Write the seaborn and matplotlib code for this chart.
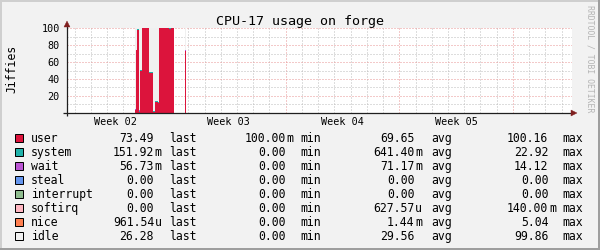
import numpy as np
import pandas as pd
import matplotlib
matplotlib.use("Agg")
import matplotlib.pyplot as plt
from matplotlib.patches import Rectangle
from matplotlib.transforms import blended_transform_factory
import seaborn as sns

# ---------------- data ----------------
title = "CPU-17 usage on forge"
unit_label = "Jiffies"
watermark = "RRDTOOL / TOBI OETIKER"

series = ["user", "system", "wait", "steal", "interrupt", "softirq", "nice", "idle"]
colors = ["#dc143c", "#20b2aa", "#ba55d3", "#6495ed", "#8fbc8f", "#ffb6c1", "#ff7f50", "#f0f0f0"]

# sample boundaries, in days since the left edge of the view
edges = [4.18, 4.24, 4.31, 4.43, 4.49, 4.61, 5.10, 5.29, 5.47, 5.60, 5.66,
         6.33, 6.40, 6.58, 7.28, 7.35]
nan = np.nan
# one value per sample (NaN = unknown)
user      = [3.0, 74.0, 98.0, 1.0, 49.5, 100.0, 46.5, 0.5, 12.5, 11.5, 100.0, 98.8, 100.0, nan, 73.5]
system    = [0.5, 0.5, 1.5, 1.0, 1.2, 0.0, 1.5, 1.0, 1.2, 0.8, 0.0, 1.2, 0.0, nan, 0.15]
wait      = [0.5, 0.0, 0.0, 1.5, 0.0, 0.0, 0.0, 0.0, 0.0, 0.0, 0.0, 0.0, 0.0, nan, 0.06]
steal     = [0.0, 0.0, 0.0, 0.0, 0.0, 0.0, 0.0, 0.0, 0.0, 0.0, 0.0, 0.0, 0.0, nan, 0.0]
interrupt = [0.0, 0.0, 0.0, 0.0, 0.0, 0.0, 0.0, 0.0, 0.0, 0.0, 0.0, 0.0, 0.0, nan, 0.0]
softirq   = [0.0, 0.0, 0.0, 0.0, 0.0, 0.0, 0.0, 0.0, 0.0, 0.0, 0.0, 0.0, 0.0, nan, 0.0]
nice      = [0.0, 0.0, 0.0, 0.0, 0.0, 0.0, 0.0, 0.0, 0.0, 0.0, 0.0, 0.0, 0.0, nan, 0.0]
idle      = [96.0, 25.5, 0.5, 96.5, 49.3, 0.0, 52.0, 98.5, 86.3, 87.7, 0.0, 0.0, 0.0, nan, 26.3]

x_span_days = 31.1
first_week_line = 6.49
week_labels = ["Week 02", "Week 03", "Week 04", "Week 05"]
y_major = [0, 20, 40, 60, 80, 100]
y_major_labels = ["", "20", "40", "60", "80", "100"]
y_minor = [10, 30, 50, 70, 90]

# legend statistics
stat_last = [73.49, 0.15192, 0.05673, 0.0, 0.0, 0.0, 0.00096154, 26.28]
stat_min  = [0.1, 0.0, 0.0, 0.0, 0.0, 0.0, 0.0, 0.0]
stat_avg  = [69.65, 0.6414, 0.07117, 0.0, 0.0, 0.00062757, 0.00144, 29.56]
stat_max  = [100.16, 22.92, 14.12, 0.0, 0.0, 0.14, 5.04, 99.86]
stat_names = ["last", "min", "avg", "max"]

# ---------------- style ----------------
BACK = "#f2f2f2"
SHADEA = "#cfcfcf"
SHADEB = "#9e9e9e"
GRID = "#bdbdbd"
MGRID = "#e99494"
ARROW = "#801f1f"
AXIS = "#1f1f1f"
MONO = ["DejaVu Sans Mono"]

sns.set_theme(style="white")
plt.rcParams["font.family"] = MONO

W, H = 600, 250
fig = plt.figure(figsize=(W / 100, H / 100), dpi=100, facecolor=BACK)

def fx(px):
    return px / W

def fy(py):
    return 1 - py / H

ax_l, ax_r, ax_t, ax_b = 66.7, 571.5, 28.3, 112.7
ax = fig.add_axes([fx(ax_l), fy(ax_b), (ax_r - ax_l) / W, (ax_b - ax_t) / H])
ax.set_facecolor("white")

# long-format table for seaborn
mids = [(a + b) / 2 for a, b in zip(edges[:-1], edges[1:])]
values = dict(user=user, system=system, wait=wait, steal=steal,
              interrupt=interrupt, softirq=softirq, nice=nice, idle=idle)
rows = []
for name in series:
    for m, v in zip(mids, values[name]):
        rows.append((m, name, v))
df = pd.DataFrame(rows, columns=["day", "metric", "value"]).dropna()

sns.histplot(data=df, x="day", weights="value", hue="metric",
             hue_order=series[::-1], bins=edges, multiple="stack",
             element="step", fill=True, palette=dict(zip(series, colors)),
             alpha=1, linewidth=0, legend=False, ax=ax)

ax.set_xlim(0, x_span_days)
ax.set_ylim(0, 100)
ax.set_xlabel("")
ax.set_ylabel("")

week_lines = [first_week_line + 7 * k for k in range(len(week_labels))]
day_lines = list(np.arange(first_week_line % 1, x_span_days, 1.0))
ax.set_xticks(week_lines, labels=[""] * len(week_lines))
ax.set_xticks(day_lines, minor=True)
ax.set_yticks(y_major, labels=y_major_labels)
ax.set_yticks(y_minor, minor=True)

dots = (0, (1, 2))
ax.xaxis.grid(True, which="major", color=MGRID, linestyle=dots, linewidth=0.72)
ax.xaxis.grid(True, which="minor", color=GRID, linestyle=dots, linewidth=0.72)
ax.yaxis.grid(True, which="major", color=MGRID, linestyle=dots, linewidth=0.72)
ax.yaxis.grid(True, which="minor", color=GRID, linestyle=dots, linewidth=0.72)
ax.set_axisbelow(True)
for s in ax.spines.values():
    s.set_visible(False)

ax.tick_params(axis="x", which="major", length=1.5, width=0.72, color=MGRID, direction="out")
ax.tick_params(axis="x", which="minor", length=1.5, width=0.72, color=GRID, direction="out")
ax.tick_params(axis="y", which="major", length=1.5, width=0.72, color=AXIS,
               direction="out", pad=3.4, labelsize=7.3, labelcolor="black")
ax.tick_params(axis="y", which="minor", length=0)

# week labels centred within each week
bt = blended_transform_factory(ax.transData, ax.transAxes)
h_ax = ax_b - ax_t
for wl, lab in zip(week_lines, week_labels):
    ax.text(wl - 3.5, -(125.0 - ax_b) / h_ax, lab, transform=bt,
            ha="center", va="baseline", fontsize=7.3, color="black", family=MONO)

# axis lines with arrows
w_ax = ax_r - ax_l
ax.plot([(63.0 - ax_l) / w_ax, (573.0 - ax_l) / w_ax], [0, 0], transform=ax.transAxes,
        color=AXIS, lw=0.9, clip_on=False, zorder=5, solid_capstyle="butt")
ax.plot([(574.0 - ax_l) / w_ax], [0], transform=ax.transAxes, marker=">", ms=4.2,
        color=ARROW, mec=ARROW, mew=0.3, clip_on=False, zorder=6)
ax.plot([0, 0], [-(115.5 - ax_b) / h_ax, (ax_b - 25.0) / h_ax], transform=ax.transAxes,
        color=AXIS, lw=0.9, clip_on=False, zorder=5, solid_capstyle="butt")
ax.plot([0], [(ax_b - 24.0) / h_ax], transform=ax.transAxes, marker="^", ms=4.2,
        color=ARROW, mec=ARROW, mew=0.3, clip_on=False, zorder=6)

# title, unit, watermark
fig.text(0.5, fy(25.0), title, ha="center", va="baseline", fontsize=9.6,
         color="black", family=MONO)
fig.text(fx(15.0), fy(69.0), unit_label, rotation=90, rotation_mode="anchor",
         ha="center", va="baseline", fontsize=8.3, color="black", family=MONO)
fig.text(fx(587.5), fy(59.0), watermark, rotation=270, rotation_mode="anchor",
         ha="center", va="baseline", fontsize=5.9, color="#b4b4b4", family=MONO)

# legend
def si(v):
    if v == 0:
        return "0.00", ""
    if abs(v) >= 1:
        return "%.2f" % v, ""
    if abs(v) >= 1e-3:
        return "%.2f" % (v * 1e3), "m"
    return "%.2f" % (v * 1e6), "u"

num_right = [154.0, 285.5, 414.5, 548.3]
word_left = [169.3, 300.3, 431.7, 562.7]
row_step = 13.91
stats = [stat_last, stat_min, stat_avg, stat_max]
for i, name in enumerate(series):
    base = 142.3 + i * row_step
    fig.patches.append(Rectangle((fx(15.0), fy(base)), 8.0 / W, 8.0 / H,
                                 transform=fig.transFigure, facecolor=colors[i],
                                 edgecolor="black", linewidth=0.72))
    fig.text(fx(30.7), fy(base), name, ha="left", va="baseline", fontsize=8.3,
             color="black", family=MONO)
    for j in range(4):
        num, suf = si(stats[j][i])
        fig.text(fx(num_right[j]), fy(base), num, ha="right", va="baseline",
                 fontsize=8.3, color="black", family=MONO)
        if suf:
            fig.text(fx(num_right[j] + 0.8), fy(base), suf, ha="left", va="baseline",
                     fontsize=8.3, color="black", family=MONO)
        fig.text(fx(word_left[j]), fy(base), stat_names[j], ha="left", va="baseline",
                 fontsize=8.3, color="black", family=MONO)

# 3-D style frame
fig.patches.append(Rectangle((0, 1 - 2.0 / H), 1, 2.0 / H, transform=fig.transFigure,
                             facecolor=SHADEA, edgecolor="none"))
fig.patches.append(Rectangle((0, 0), 2.0 / W, 1, transform=fig.transFigure,
                             facecolor=SHADEA, edgecolor="none"))
fig.patches.append(Rectangle((0, 0), 1, 2.0 / H, transform=fig.transFigure,
                             facecolor=SHADEB, edgecolor="none"))
fig.patches.append(Rectangle((1 - 2.0 / W, 0), 2.0 / W, 1, transform=fig.transFigure,
                             facecolor=SHADEB, edgecolor="none"))

fig.savefig("out.png", dpi=100, facecolor=BACK)
